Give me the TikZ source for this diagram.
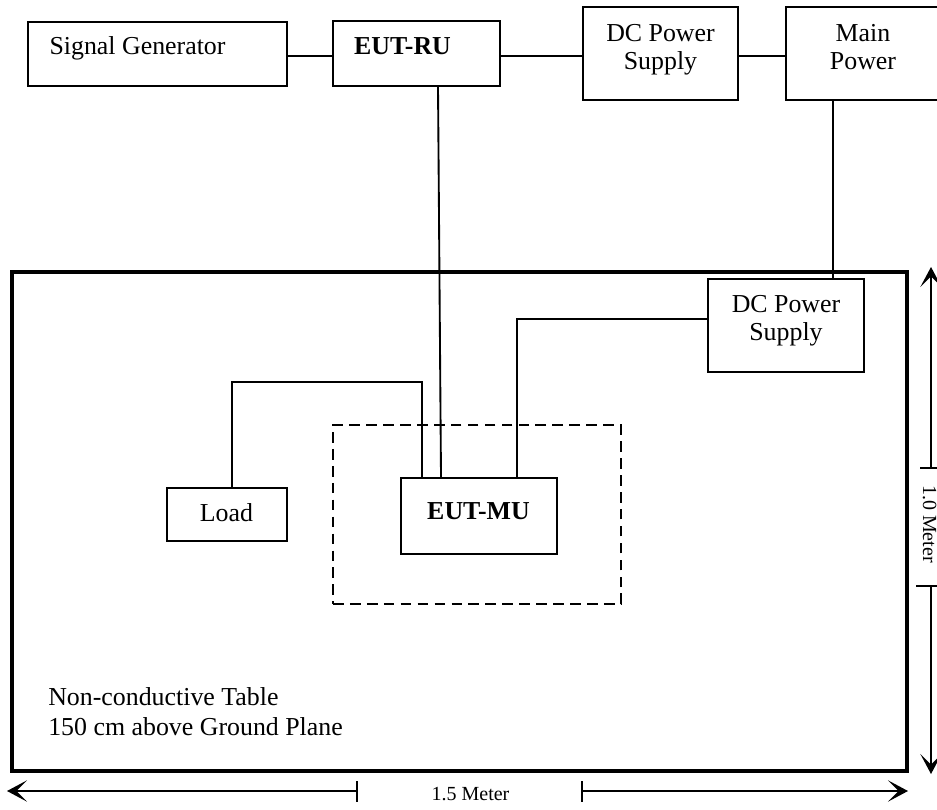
\documentclass[tikz,border=0pt]{standalone}
\usepackage{fontspec}
\setmainfont{Liberation Serif}
\usetikzlibrary{arrows.meta,calc}
\tikzset{
  x=0.75pt,y=-0.75pt,
  box/.style={draw,line width=1.5pt,inner sep=0pt},
  lbl/.style={inner sep=0pt,align=center,font=\fontsize{19.4pt}{21pt}\selectfont},
  note/.style={inner sep=0pt,align=left,font=\fontsize{19.4pt}{22.5pt}\selectfont},
  small/.style={inner sep=0pt,font=\fontsize{15pt}{18pt}\selectfont},
  wire/.style={line width=1.4pt},
  dim/.style={line width=1.2pt,-{Stealth[length=15pt,width=16pt,inset=8pt]}},
  tick/.style={line width=1.2pt},
}
\newcommand{\boxat}[4]{\node[box,minimum width=#3*0.75pt,minimum height=#4*0.75pt] (#1) at (#2) {};}
\begin{document}
\begin{tikzpicture}
\useasboundingbox (0,0) rectangle (937,809);
% table
\node[draw,line width=3pt,minimum width=895*0.75pt,minimum height=499*0.75pt,inner sep=0pt] (table) at (459.5,521.5) {};
% top row
\boxat{sg}{157.5,54}{259}{64}
\boxat{ru}{416.5,53.5}{167}{65}
\boxat{dc}{660.5,53.5}{155}{93}
\boxat{mp}{876,53.5}{180}{93}
\node[lbl] (sgl) at (137.5,48) {Signal Generator};
\node[lbl] (rul) at (402.5,46.5) {\textbf{EUT-RU}};
\node[lbl] (dcl) at (660.5,49.5) {DC Power\\Supply};
\node[lbl] (mpl) at (863,47) {Main\\Power};
% table contents
\boxat{dc2}{786,325.5}{156}{93}
\node[lbl] (dc2l) at (786,321) {DC Power\\Supply};
\boxat{load}{227,514.5}{120}{53}
\node[lbl] (loadl) at (226.5,513) {Load};
\boxat{mu}{479,516}{156}{76}
\node[lbl] (mul) at (478.5,511.5) {\textbf{EUT-MU}};
\node[draw,line width=1.3pt,dash pattern=on 8pt off 4.7pt,minimum width=288*0.75pt,minimum height=179*0.75pt,inner sep=0pt] (dash) at (477,514.5) {};
\node[note,anchor=west] (notel) at (48,712) {Non-conductive Table\\150 cm above Ground Plane};
% wires
\draw[wire] (sg.east |- 0,56) -- (ru.west |- 0,56);
\draw[wire] (ru.east |- 0,56) -- (dc.west |- 0,56);
\draw[wire] (dc.east |- 0,56) -- (mp.west |- 0,56);
\draw[wire] (mp.south -| 833,0) -- (dc2.north -| 833,0);
\draw[wire] (ru.south -| 438,0) -- (mu.north -| 441,0);
\draw[wire] (dc2.west |- 0,319) -| (mu.north -| 517,0);
\draw[wire] (load.north -| 232,0) |- (422,382) -- (mu.north -| 422,0);
% dimensions
\node[small,rotate=-90] (h) at (929.5,524) {1.0 Meter};
\node[small] (w) at (470.5,794.5) {1.5 Meter};
\coordinate (t1) at (931,468);\coordinate (t2) at (931,586);
\coordinate (a1) at (931,267);\coordinate (a2) at (931,774);
\draw[dim] (t1) -- (a1);
\draw[dim] (t2) -- (a2);
\draw[tick] (920,468) -- (937,468);
\draw[tick] (916,586) -- (937,586);
\coordinate (w1) at (357,791);\coordinate (w2) at (582,791);
\coordinate (b1) at (7,791);\coordinate (b2) at (908,791);
\draw[dim] (w1) -- (b1);
\draw[dim] (w2) -- (b2);
\draw[tick] (357,781) -- (357,802);
\draw[tick] (582,781) -- (582,802);
\end{tikzpicture}
\end{document}
